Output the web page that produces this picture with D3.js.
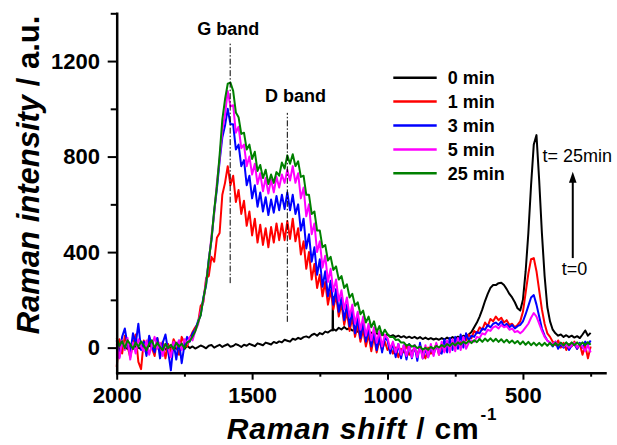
<!DOCTYPE html>
<html>
<head>
<meta charset="utf-8">
<script src="https://cdn.jsdelivr.net/npm/d3@7"></script>
<style>
  body { margin: 0; background: #fff; }
  svg { display: block; font-family: "Liberation Sans", Arial, Helvetica, sans-serif; }
</style>
</head>
<body>
<svg id="chart" width="617" height="445"></svg>
<script>
// Raman shift grid (cm^-1), sampled every 10 cm^-1 from 2000 down to 250
const shifts = d3.range(2000, 249, -10);

// Raman intensity (a.u.) after each exposure time
const min0 = [
  5, -8, 10, 2, -5, 8, -3, 6, 0, -6,
  4, -7, 9, 1, -4, 7, -2, 5, -8, 3,
  -3, 6, -5, 4, 0, -6, 8, -2, 5, -4,
  2, 9, 4, -3, 8, 11, 0, 6, 12, 3,
  9, 14, 4, 7, 15, 10, 3, 12, 8, 16,
  11, 6, 18, 14, 10, 21, 17, 13, 24, 19,
  26, 22, 33, 29, 25, 37, 33, 41, 36, 44,
  47, 42, 53, 58, 50, 61, 56, 67, 63, 72,
  78, 71, 83, 76, 86, 77, 81, 72, 75, 67,
  71, 63, 67, 59, 63, 56, 61, 53, 57, 50,
  55, 47, 52, 45, 50, 43, 48, 41, 46, 40,
  45, 38, 44, 36, 42, 35, 40, 34, 38, 33,
  40, 34, 42, 36, 44, 38, 46, 40, 50, 46,
  55, 65, 85, 105, 130, 160, 195, 225, 250, 262,
  262, 270, 272, 262, 245, 225, 210, 190, 165, 155,
  200, 320, 480, 680, 850, 890, 700, 480, 300, 170,
  110, 75, 60, 50, 55, 45, 52, 44, 50, 42,
  48, 40, 55, 72, 50, 62
];
// narrow spike in the 0 min spectrum
const spike0Shifts = [1203, 1202, 1201];
const spike0Values = [74, 213, 72];

const min1 = [
  -80, 35, -25, 50, 5, -40, 15, 55, -60, -90,
  30, -20, 45, 0, -35, 40, -10, 25, -45, 15,
  -20, 35, 10, -30, 45, 20, 5, 40, 65, 85,
  100, 175, 190, 290, 300, 380, 360, 460, 480, 640,
  690, 760, 680, 720, 610, 660, 560, 615, 510, 570,
  470, 540, 440, 515, 430, 500, 420, 505, 440, 520,
  450, 520, 450, 530, 455, 540, 445, 500, 390, 445,
  330, 400, 285, 350, 250, 305, 215, 275, 180, 240,
  160, 220, 130, 185, 95, 150, 70, 125, 45, 95,
  25, 75, 5, 55, -15, 45, -20, 30, -10, 25,
  -10, 5, -25, 0, -40, -5, -20, 10, -30, -15,
  -5, -35, 10, -20, -45, 0, -25, -10, 15, -30,
  5, -15, 20, -5, 25, 10, 35, 15, 40, 30,
  55, 40, 70, 60, 85, 75, 105, 90, 120, 110,
  130, 115, 125, 105, 115, 95, 100, 85, 95, 110,
  150, 230, 310, 370, 375, 320, 240, 160, 100, 60,
  45, 25, 10, 30, 0, 20, -10, 15, 5, 25,
  -5, 15, -30, 10, -45, 5
];

const min3 = [
  30, -40, 45, 80, 10, -25, 60, 15, 100, -10,
  25, -35, 50, 5, -20, 40, -45, 20, 55, -15,
  -95, 20, -50, 30, -65, 10, 45, 25, 60, 75,
  110, 135, 210, 260, 370, 450, 570, 665, 780, 880,
  930, 1000, 935, 935, 830, 850, 760, 785, 680, 720,
  625, 680, 590, 650, 570, 630, 555, 620, 565, 635,
  575, 640, 580, 650, 575, 640, 560, 600, 490, 540,
  415, 475, 360, 420, 305, 370, 255, 320, 215, 280,
  180, 245, 150, 210, 115, 180, 90, 155, 60, 125,
  40, 105, 25, 80, 5, 65, -10, 50, -20, 40,
  30, -25, 20, -40, 15, -45, 10, -50, 15, -45,
  10, -55, 20, -45, -5, -40, 5, -30, 10, -20,
  -25, 35, -20, 40, -10, 45, -5, 55, 0, 60,
  30, 50, 45, 65, 60, 80, 75, 95, 85, 100,
  105, 95, 110, 90, 100, 85, 95, 80, 90, 95,
  110, 140, 175, 210, 220, 180, 130, 80, 50, 30,
  20, 5, 25, -5, 15, 0, 20, -10, 10, 15,
  -5, 20, 0, 25, 10, 30
];

const min5 = [
  15, -45, 30, -10, 40, -50, 20, -25, 35, 5,
  -15, 30, -30, 10, 45, -5, 20, -35, 15, 0,
  -40, 25, 5, 30, -10, 35, 15, 45, 30, 70,
  95, 150, 195, 280, 355, 470, 560, 690, 790, 910,
  975, 1075, 1010, 1015, 900, 925, 835, 850, 760, 800,
  725, 770, 685, 730, 655, 710, 645, 705, 650, 715,
  670, 725, 690, 745, 700, 760, 690, 730, 625, 670,
  550, 600, 475, 520, 400, 445, 335, 385, 275, 330,
  235, 285, 195, 240, 160, 210, 130, 180, 100, 150,
  75, 130, 50, 100, 30, 85, 20, 70, 5, 55,
  40, -5, 25, -20, 15, -30, 10, -35, 10, -40,
  10, -40, 5, -45, 10, -40, 15, -35, 20, -30,
  25, -20, 30, -20, 35, -15, 40, -10, 45, -5,
  20, 30, 25, 45, 40, 60, 55, 75, 70, 85,
  90, 80, 95, 85, 90, 75, 80, 65, 70, 60,
  70, 85, 100, 125, 145, 130, 100, 70, 45, 30,
  20, 15, 25, 10, 20, 5, 15, 0, 10, 20,
  0, 15, 5, -15, 10, -20
];

const min25 = [
  40, 8, 27, -2, 31, 14, -6, 22, 4, 26,
  9, -12, 17, 31, -1, 21, 3, -11, 16, -2,
  12, -7, 21, 4, 17, -3, 22, 28, 47, 68,
  104, 136, 205, 266, 365, 455, 575, 676, 805, 955,
  1040, 1105, 1110, 1075, 985, 965, 895, 900, 830, 850,
  790, 820, 740, 765, 710, 745, 685, 725, 690, 735,
  720, 775, 750, 805, 770, 810, 760, 780, 715, 720,
  640, 640, 560, 570, 490, 490, 420, 430, 365, 380,
  325, 340, 285, 300, 250, 265, 210, 225, 175, 190,
  140, 155, 105, 130, 85, 110, 65, 90, 52, 75,
  56, 44, 46, 32, 34, 21, 22, 8, 14, 4,
  9, -2, 4, -8, -1, -9, 3, -5, 7, 1,
  11, 3, 15, 7, 19, 9, 22, 13, 25, 17,
  29, 19, 31, 23, 36, 24, 38, 27, 39, 26,
  37, 24, 35, 22, 33, 20, 30, 18, 28, 14,
  26, 12, 24, 10, 21, 9, 20, 8, 20, 8,
  20, 8, 20, 9, 21, 9, 22, 10, 22, 10,
  22, 10, 22, 11, 23, 12
];

const seriesLabels = ["0 min", "1 min", "3 min", "5 min", "25 min"];
const seriesColors = ["#000000", "#ff0000", "#0000ff", "#ff00ff", "#008000"];

const xMajorTicks = [2000, 1500, 1000, 500];
const xMinorTicks = [1750, 1250, 750, 250];
const yMajorTicks = [0, 400, 800, 1200];
const yMinorTicks = [200, 600, 1000, 1400];

const bandLabels = ["G band", "D band"];
const bandShifts = [1581, 1370];

// ---- assemble series ----
function pairs(values) { return shifts.map((s, i) => [s, values[i]]); }
const black = pairs(min0)
  .concat(spike0Shifts.map((s, i) => [s, spike0Values[i]]))
  .sort((a, b) => b[0] - a[0]);
const allSeries = [black, pairs(min1), pairs(min3), pairs(min5), pairs(min25)];

// ---- scales ----
const svg = d3.select("#chart");
const x = d3.scaleLinear().domain([2000, 197]).range([116.7, 605]);
const y = d3.scaleLinear().domain([-105, 1400]).range([372.7, 13.3]);

// ---- spectra ----
const line = d3.line().x(d => x(d[0])).y(d => y(d[1]));
svg.append("g").selectAll("path")
  .data(allSeries)
  .join("path")
  .attr("d", line)
  .attr("fill", "none")
  .attr("stroke", (d, i) => seriesColors[i])
  .attr("stroke-width", 2)
  .attr("stroke-linejoin", "round");

// ---- band markers ----
const bandLineExtent = [[270, 1279], [108, 983]];
const bandLabelPos = [[1588, 1310], [1452, 1030]];
bandShifts.forEach((s, i) => {
  svg.append("line")
    .attr("x1", x(s)).attr("x2", x(s))
    .attr("y1", y(bandLineExtent[i][0])).attr("y2", y(bandLineExtent[i][1]))
    .attr("stroke", "#000").attr("stroke-width", 1)
    .attr("stroke-dasharray", "6,2,1.5,2");
  svg.append("text")
    .attr("x", x(bandLabelPos[i][0])).attr("y", y(bandLabelPos[i][1]))
    .attr("text-anchor", i === 0 ? "middle" : "start")
    .attr("font-size", 18).attr("font-weight", "bold")
    .text(bandLabels[i]);
});

// ---- time arrow ----
const ax = x(316), tipY = y(736);
svg.append("line")
  .attr("x1", ax).attr("x2", ax)
  .attr("y1", y(375)).attr("y2", tipY + 8)
  .attr("stroke", "#000").attr("stroke-width", 2);
svg.append("path")
  .attr("d", `M${ax},${tipY} L${ax - 3.8},${tipY + 11} L${ax + 3.8},${tipY + 11} Z`)
  .attr("fill", "#000");
svg.append("text").attr("x", x(428)).attr("y", y(776))
  .attr("font-size", 18).text("t= 25min");
svg.append("text").attr("x", x(357)).attr("y", y(304))
  .attr("font-size", 18).text("t=0");

// ---- legend ----
const legend = svg.append("g");
seriesLabels.forEach((lab, i) => {
  const ly = 77.7 + i * 23.9;
  legend.append("line")
    .attr("x1", 393.3).attr("x2", 436.7).attr("y1", ly).attr("y2", ly)
    .attr("stroke", seriesColors[i]).attr("stroke-width", 2.5);
  legend.append("text")
    .attr("x", 447.7).attr("y", ly + 6.5)
    .attr("font-size", 18).attr("font-weight", "bold")
    .text(lab);
});

// ---- axes ----
function styleAxis(g) {
  g.select(".domain").attr("stroke-width", 2.5).attr("stroke-linecap", "square");
  g.selectAll(".tick line").attr("stroke-width", 2);
  g.selectAll("text").attr("font-size", 22).attr("font-weight", "bold")
    .attr("font-family", "Liberation Sans, Arial, sans-serif").attr("fill", "#000");
}
svg.append("g").attr("transform", "translate(0,372.7)")
  .call(d3.axisBottom(x).tickValues(xMinorTicks).tickFormat("").tickSizeInner(4).tickSizeOuter(0))
  .call(g => g.select(".domain").remove())
  .call(g => g.selectAll(".tick line").attr("stroke-width", 2));
svg.append("g").attr("transform", "translate(0,372.7)")
  .call(d3.axisBottom(x).tickValues(xMajorTicks).tickFormat(d3.format("d"))
    .tickSizeInner(7).tickSizeOuter(0).tickPadding(7.7))
  .call(styleAxis);

svg.append("g").attr("transform", "translate(116.7,0)")
  .call(d3.axisLeft(y).tickValues(yMinorTicks).tickFormat("").tickSizeInner(6).tickSizeOuter(0))
  .call(g => g.select(".domain").remove())
  .call(g => g.selectAll(".tick line").attr("stroke-width", 2));
svg.append("g").attr("transform", "translate(116.7,0)")
  .call(d3.axisLeft(y).tickValues(yMajorTicks).tickFormat(d3.format("d"))
    .tickSizeInner(9).tickSizeOuter(0).tickPadding(7.7))
  .call(styleAxis);

// ---- axis titles ----
const xTitle = svg.append("text")
  .attr("x", 226.7).attr("y", 438.5)
  .attr("font-size", 30).attr("font-weight", "bold")
  .attr("letter-spacing", 0.8);
xTitle.append("tspan").attr("font-style", "italic").text("Raman shift");
xTitle.append("tspan").text(" / cm");
xTitle.append("tspan").attr("font-size", 17).attr("dy", -19).attr("dx", 1).text("-1");

const yTitle = svg.append("text")
  .attr("transform", "translate(39,175) rotate(-90)")
  .attr("text-anchor", "middle")
  .attr("font-size", 31).attr("font-weight", "bold");
yTitle.append("tspan").attr("font-style", "italic").text("Raman intensity");
yTitle.append("tspan").text(" / a.u.");
</script>
</body>
</html>
